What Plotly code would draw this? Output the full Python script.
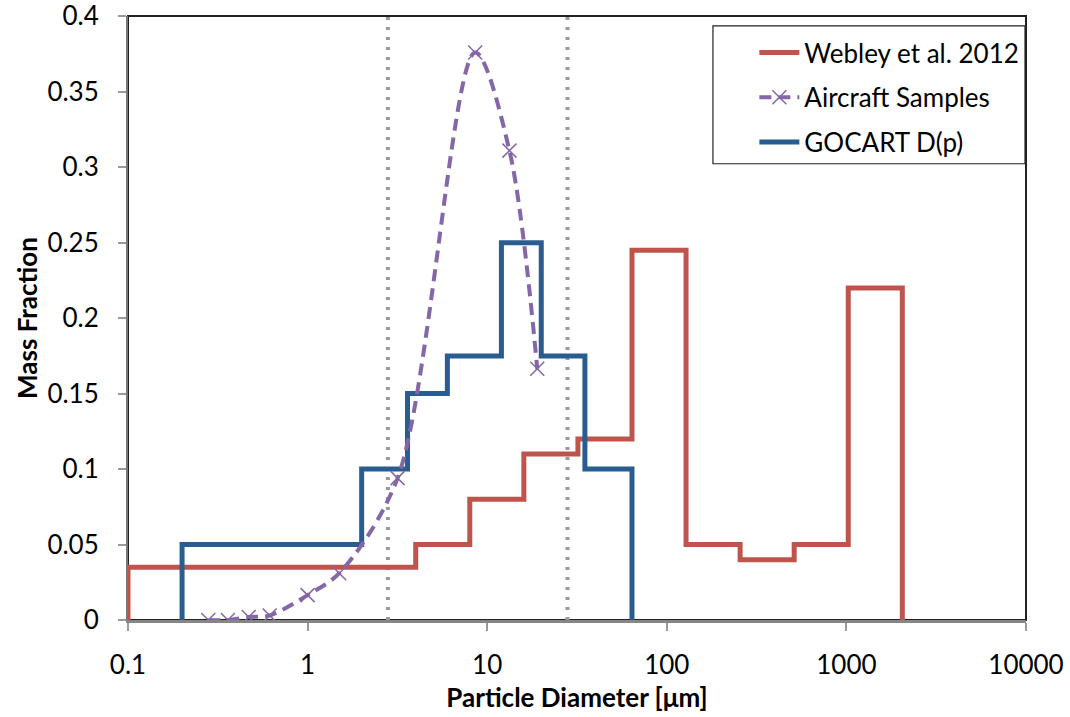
import plotly.graph_objects as go

# ---- data ----
webley_edges = [0.1, 4, 8, 16, 32, 64, 128, 256, 512, 1024, 2048]
webley_vals = [0.035, 0.05, 0.08, 0.11, 0.12, 0.245, 0.05, 0.04, 0.05, 0.22]

gocart_edges = [0.2, 2, 3.6, 6, 12, 20, 35, 64]
gocart_vals = [0.05, 0.1, 0.15, 0.175, 0.25, 0.175, 0.1]

aircraft_x = [0.28, 0.36, 0.47, 0.615, 1.0, 1.5, 3.17, 8.57, 13.3, 19.0]
aircraft_y = [0.0, 0.0, 0.002, 0.003, 0.0165, 0.031, 0.094, 0.376, 0.311, 0.1665]

ref_lines = [2.8, 28]

x_tickvals = [0.1, 1, 10, 100, 1000, 10000]
x_ticktext = ["0.1", "1", "10", "100", "1000", "10000"]
y_tickvals = [0, 0.05, 0.1, 0.15, 0.2, 0.25, 0.3, 0.35, 0.4]
y_ticktext = ["0", "0.05", "0.1", "0.15", "0.2", "0.25", "0.3", "0.35", "0.4"]

RED = "#BF544D"
BLUE = "#2A5D8F"
PURPLE = "#8567A8"
FONT = "Lato"
FS = 26


def step_outline(edges, vals):
    xs, ys = [edges[0]], [0]
    for i, v in enumerate(vals):
        xs += [edges[i], edges[i + 1]]
        ys += [v, v]
    xs.append(edges[-1])
    ys.append(0)
    return xs, ys


fig = go.Figure()

for xv in ref_lines:
    fig.add_trace(go.Scatter(
        x=[xv, xv], y=[0, 0.4], mode="lines", showlegend=False,
        line=dict(color="#999999", width=4, dash="3px,7px"), hoverinfo="skip"))

wx, wy = step_outline(webley_edges, webley_vals)
fig.add_trace(go.Scatter(
    x=wx, y=wy, mode="lines", name="Webley et al. 2012", legendrank=1,
    legendgroup="a", line=dict(color=RED, width=5)))

gx, gy = step_outline(gocart_edges, gocart_vals)
fig.add_trace(go.Scatter(
    x=gx, y=gy, mode="lines", name="GOCART D(p)", legendrank=3,
    legendgroup="c", line=dict(color=BLUE, width=5)))

fig.add_trace(go.Scatter(
    x=aircraft_x, y=aircraft_y, mode="lines+markers", name="Aircraft Samples",
    legendrank=2, legendgroup="b",
    line=dict(color=PURPLE, width=4, dash="12px,7px", shape="spline", smoothing=0.9),
    marker=dict(symbol="x-thin", size=14, color=PURPLE, line=dict(color=PURPLE, width=1.5))))

fig.update_layout(
    width=1070, height=717,
    margin=dict(l=128, r=44, t=16, b=97),
    paper_bgcolor="white", plot_bgcolor="white",
    font=dict(family=FONT, size=FS, color="black"),
    legend=dict(x=0.6975, y=0.9785, xanchor="left", yanchor="top",
                borderwidth=0, bgcolor="rgba(0,0,0,0)",
                font=dict(family=FONT, size=FS, color="black"),
                tracegroupgap=8, traceorder="grouped", itemwidth=40),
    shapes=[
        dict(type="rect", xref="paper", yref="paper", x0=0, y0=0, x1=1, y1=1,
             line=dict(color="#222222", width=2), layer="below"),
        dict(type="rect", xref="paper", yref="paper", x0=0.6514, x1=0.9989,
             y0=0.7554, y1=0.9835, line=dict(color="#222222", width=1.2),
             fillcolor="white", layer="below"),
    ],
)

fig.update_xaxes(
    type="log", range=[-1, 4], tickvals=x_tickvals, ticktext=x_ticktext,
    showgrid=False, zeroline=False, showline=True, linecolor="#868686", linewidth=3,
    ticks="outside", ticklen=8, tickwidth=1.5, tickcolor="#9a9a9a",
    ticklabelstandoff=12, automargin=False, ticklabeloverflow="allow",
    title=dict(text="<b>Particle Diameter [μm]</b>", font=dict(family=FONT, size=FS), standoff=10),
)
fig.update_yaxes(
    range=[0, 0.4002], tickvals=y_tickvals, ticktext=y_ticktext,
    showgrid=False, zeroline=False, showline=True, linecolor="#777777", linewidth=2,
    ticks="outside", ticklen=8, tickwidth=1.5, tickcolor="#9a9a9a",
    ticklabelstandoff=14, automargin=False, ticklabeloverflow="allow",
    title=dict(text="<b>Mass Fraction</b>", font=dict(family=FONT, size=FS), standoff=2),
)

fig.write_html("out.html", config={"displayModeBar": False},
               post_script="document.body.style.margin='0';")
